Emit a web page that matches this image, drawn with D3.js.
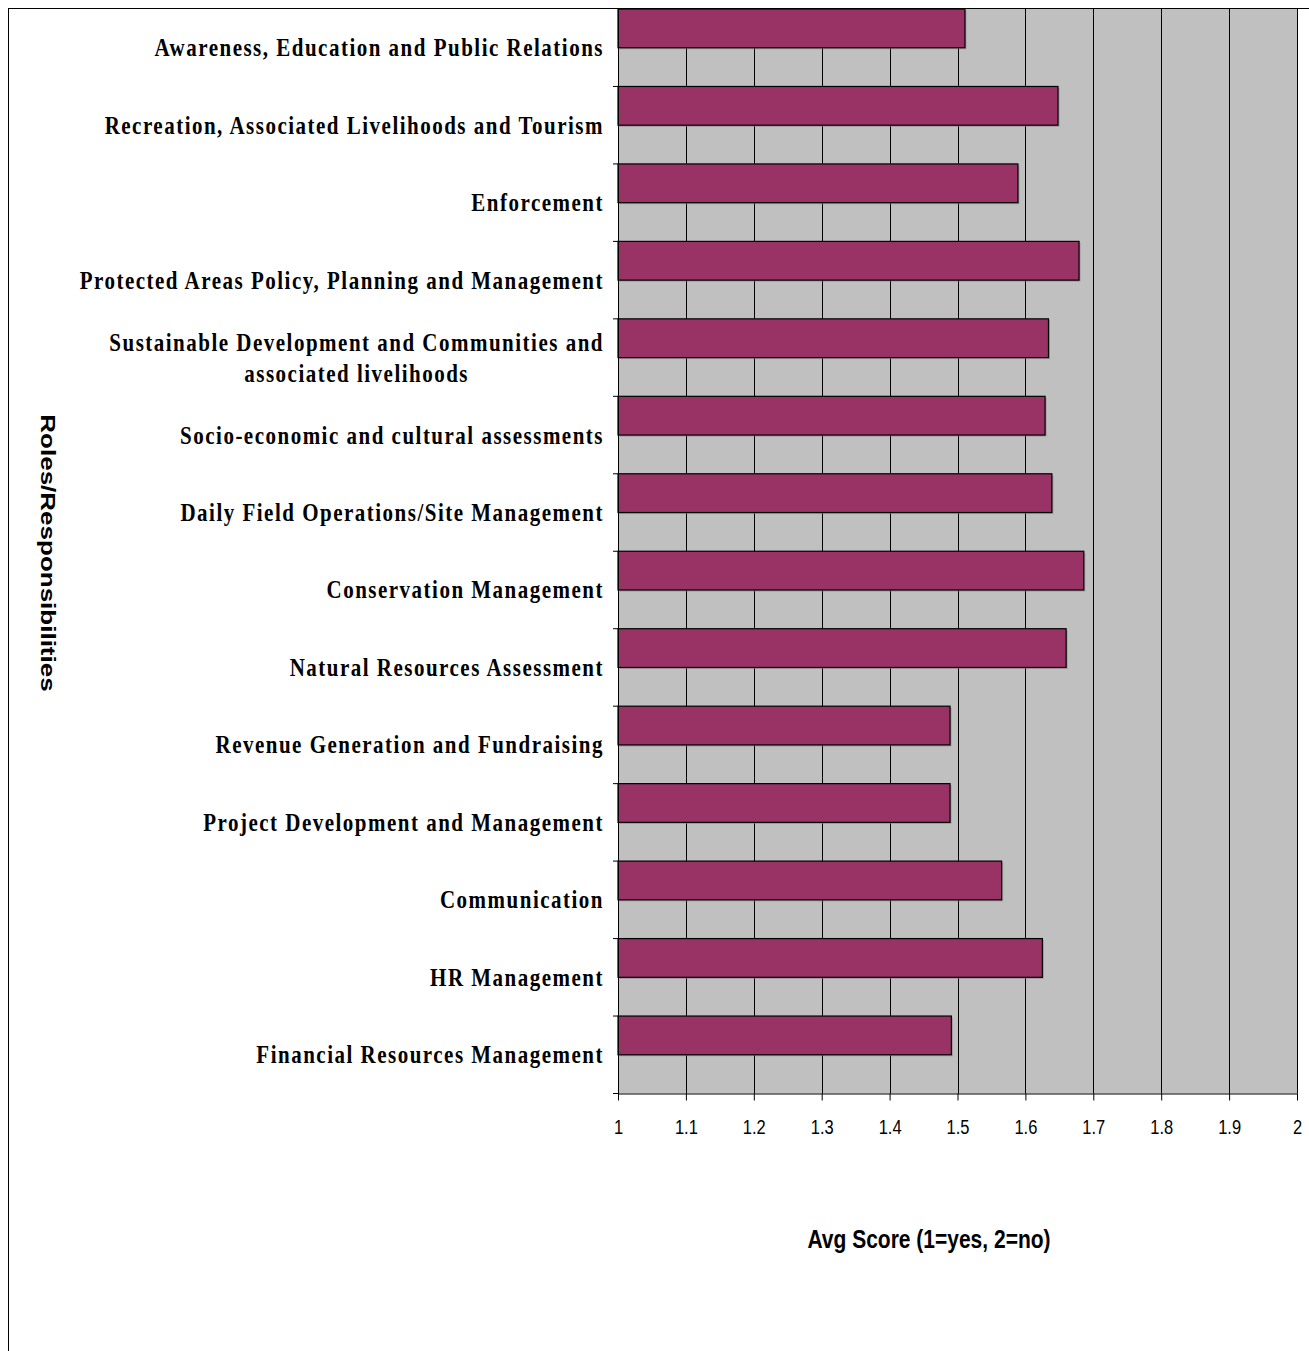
<!DOCTYPE html>
<html>
<head>
<meta charset="utf-8">
<script src="https://cdn.jsdelivr.net/npm/d3@7"></script>
<style>
  html, body { margin: 0; padding: 0; background: #fff; }
  svg { display: block; }
</style>
</head>
<body>
<svg id="chart" width="1309" height="1351"></svg>
<script>
// ---- Data ----
const categories = [
  "Awareness, Education and Public Relations",
  "Recreation, Associated Livelihoods and Tourism",
  "Enforcement",
  "Protected Areas Policy, Planning and Management",
  "Sustainable Development and Communities and associated livelihoods",
  "Socio-economic and cultural assessments",
  "Daily Field Operations/Site Management",
  "Conservation Management",
  "Natural Resources Assessment",
  "Revenue Generation and Fundraising",
  "Project Development and Management",
  "Communication",
  "HR Management",
  "Financial Resources Management"
];
const avgScores = [1.511, 1.648, 1.589, 1.679, 1.634, 1.629, 1.639, 1.686, 1.660, 1.489, 1.489, 1.565, 1.625, 1.491];
const xTicks = [1, 1.1, 1.2, 1.3, 1.4, 1.5, 1.6, 1.7, 1.8, 1.9, 2];
const xTickLabels = ["1", "1.1", "1.2", "1.3", "1.4", "1.5", "1.6", "1.7", "1.8", "1.9", "2"];
const xTitle = "Avg Score (1=yes, 2=no)";
const yTitle = "Roles/Responsibilities";

// ---- Layout ----
const plot = { left: 618, right: 1297, top: 9, bottom: 1093.5 };
const svg = d3.select("#chart");

const x = d3.scaleLinear().domain([1, 2]).range([plot.left, plot.right]);
const y = d3.scaleBand().domain(categories).range([plot.top, plot.bottom]).padding(0);
const data = categories.map((c, i) => ({ cat: c, val: avgScores[i] }));

// chart frame
svg.append("line").attr("x1", 8).attr("x2", 1309).attr("y1", 8.5).attr("y2", 8.5)
  .attr("stroke", "#000").attr("stroke-width", 1);
svg.append("line").attr("x1", 8.5).attr("x2", 8.5).attr("y1", 8).attr("y2", 1351)
  .attr("stroke", "#000").attr("stroke-width", 1);

// plot background
svg.append("rect").attr("x", plot.left).attr("y", plot.top)
  .attr("width", plot.right - plot.left).attr("height", plot.bottom - plot.top)
  .attr("fill", "#C0C0C0");

// vertical gridlines
svg.append("g").selectAll("line").data(xTicks.slice(1)).join("line")
  .attr("x1", d => Math.round(x(d)) + 0.5).attr("x2", d => Math.round(x(d)) + 0.5)
  .attr("y1", plot.top).attr("y2", plot.bottom)
  .attr("stroke", "#000").attr("stroke-width", 1);

// bars (with subtle shadow)
const bh = y.bandwidth() / 2;
svg.append("g").selectAll("rect").data(data).join("rect")
  .attr("x", x(1) + 1.5).attr("y", d => y(d.cat) + 1.5)
  .attr("width", d => x(d.val) - x(1)).attr("height", bh)
  .attr("fill", "#808080").attr("opacity", 0.6);
svg.append("g").selectAll("rect").data(data).join("rect")
  .attr("x", x(1)).attr("y", d => y(d.cat))
  .attr("width", d => x(d.val) - x(1)).attr("height", bh)
  .attr("fill", "#993366").attr("stroke", "#000").attr("stroke-width", 1.2);

// y axis line + boundary ticks
svg.append("g").attr("transform", `translate(${plot.left},0)`)
  .call(d3.axisLeft(y).tickSize(0).tickFormat(""))
  .call(g => g.select(".domain").attr("stroke", "#000"));
svg.append("g").selectAll("line").data(categories.slice(1)).join("line")
  .attr("x1", plot.left - 5).attr("x2", plot.left)
  .attr("y1", d => y(d)).attr("y2", d => y(d))
  .attr("stroke", "#000");

// x axis
const xAxis = svg.append("g").attr("transform", `translate(0,${plot.bottom})`)
  .call(d3.axisBottom(x).tickValues(xTicks).tickSize(7).tickSizeOuter(0)
    .tickFormat((d, i) => xTickLabels[i]));
xAxis.select(".domain").attr("stroke", "#000");
xAxis.selectAll(".tick line").attr("stroke", "#000");
xAxis.selectAll(".tick text")
  .attr("font-family", "Liberation Sans, Arial, sans-serif")
  .attr("font-size", 16.5).attr("fill", "#000")
  .attr("y", 0).attr("dy", 0)
  .attr("transform", "translate(0,40) scale(1,1.25)");
svg.append("line").attr("x1", plot.left - 5).attr("x2", plot.left)
  .attr("y1", plot.bottom).attr("y2", plot.bottom).attr("stroke", "#000");

// category labels (wrapped when wider than the label area)
const maxLabelWidth = 540;
const labelG = svg.append("g");
categories.forEach(c => {
  const cy = y(c) + y.bandwidth() / 2;
  const g = labelG.append("g").attr("transform", `translate(604,${cy}) scale(1,1.15)`);
  const mk = (txt) => g.append("text").text(txt)
    .attr("font-family", "Liberation Serif, Times New Roman, serif")
    .attr("font-weight", "bold").attr("font-size", 21)
    .attr("letter-spacing", 1.5).attr("fill", "#000");
  // greedy word wrap
  const probe = mk("").attr("visibility", "hidden");
  const words = c.split(" ");
  const lines = [];
  let cur = "";
  words.forEach(w => {
    const test = cur ? cur + " " + w : w;
    probe.text(test);
    if (probe.node().getComputedTextLength() > maxLabelWidth && cur) {
      lines.push(cur); cur = w;
    } else cur = test;
  });
  lines.push(cur);
  probe.remove();
  if (lines.length === 1) {
    mk(c).attr("text-anchor", "end").attr("dy", "0.35em");
  } else {
    const lh = 27;
    const t1 = mk(lines[0]).attr("text-anchor", "end")
      .attr("y", -lh / 2).attr("dy", "0.35em");
    const w1 = t1.node().getComputedTextLength();
    lines.slice(1).forEach((ln, k) => {
      mk(ln).attr("text-anchor", "middle").attr("x", -w1 / 2)
        .attr("y", -lh / 2 + (k + 1) * lh).attr("dy", "0.35em");
    });
  }
});

// axis titles
svg.append("g").attr("transform", "translate(929,1248) scale(1,1.2)")
  .append("text").text(xTitle)
  .attr("text-anchor", "middle")
  .attr("font-family", "Liberation Sans, Arial, sans-serif")
  .attr("font-weight", "bold").attr("font-size", 21).attr("fill", "#000");

svg.append("g").attr("transform", "translate(41,553) rotate(90) scale(1.3,1)")
  .append("text").text(yTitle)
  .attr("text-anchor", "middle").attr("dy", "0")
  .attr("font-family", "Liberation Sans, Arial, sans-serif")
  .attr("font-weight", "bold").attr("font-size", 20).attr("fill", "#000");
</script>
</body>
</html>
